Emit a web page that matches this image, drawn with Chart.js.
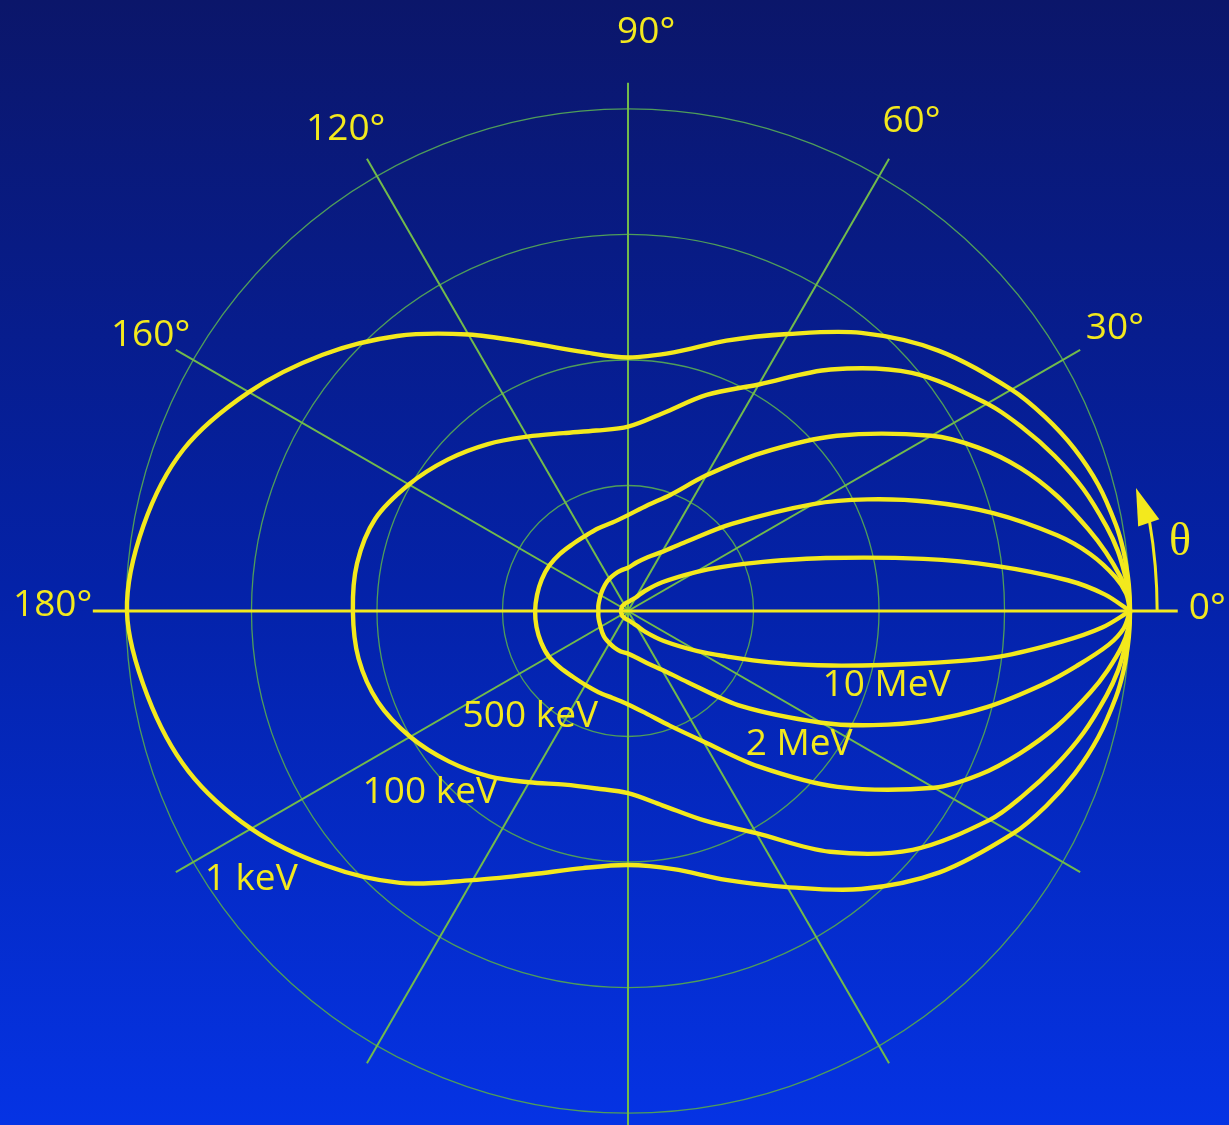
<!DOCTYPE html>
<html>
<head>
<meta charset="utf-8">
<script src="https://cdn.jsdelivr.net/npm/chart.js@4.4.0/dist/chart.umd.min.js"></script>
<style>
  html, body { margin: 0; padding: 0; }
  body {
    width: 1229px; height: 1125px; overflow: hidden;
    background: linear-gradient(to bottom, #0b166a 0%, #0422a8 52%, #0533e4 100%);
  }
  canvas { display: block; }
</style>
</head>
<body>
<canvas id="chart" width="1229" height="1125"></canvas>
<script>
// sample angles in degrees from the 0° axis (upper half +θ, lower half -θ)
const THETA = [0, 2, 4, 7, 10, 15, 20, 25, 30, 40, 50, 60, 70, 80, 90, 100, 110, 120, 130, 140, 150, 160, 170, 180];

const ENERGIES = ['1 keV', '100 keV', '500 keV', '2 MeV', '10 MeV'];

// relative intensity, outer ring = 100
const R_1KEV_UP = [100, 99.95, 99.8, 99.4, 98.7, 97.0, 94.6, 91.6, 88.2, 80.7, 72.3, 63.7, 57.3, 52.3, 50.5, 52.4, 56.8, 63.6, 71.5, 79.4, 87.2, 94.2, 98.0, 99.8];
const R_1KEV_DN = [100, 99.95, 99.8, 99.4, 98.7, 97.0, 94.7, 91.9, 88.6, 81.0, 72.3, 63.5, 57.0, 52.2, 50.6, 52.0, 55.8, 61.9, 70.7, 78.8, 86.7, 93.2, 97.2, 99.7];
const R_100KEV_UP = [100, 99.8, 99.3, 98.3, 96.8, 93.9, 90.4, 86.6, 82.6, 73.8, 62.8, 52.1, 45.8, 40.0, 36.7, 36.5, 37.7, 40.1, 43.4, 46.9, 50.4, 53.6, 54.8, 54.8];
const R_100KEV_DN = [100, 99.8, 99.3, 98.3, 96.8, 93.9, 90.5, 86.9, 83.2, 74.0, 62.6, 51.1, 44.4, 39.3, 36.3, 35.9, 36.8, 39.4, 43.0, 46.6, 50.1, 53.0, 54.5, 54.8];
const R_500KEV_UP = [100, 99.6, 98.3, 95.9, 93.2, 88.5, 83.2, 77.0, 69.8, 54.3, 41.0, 31.2, 24.6, 21.3, 19.1, 17.9, 17.5, 17.2, 17.3, 17.7, 18.1, 18.3, 18.4, 18.5];
const R_500KEV_DN = [100, 99.7, 98.7, 96.3, 93.5, 88.5, 83.0, 77.2, 70.4, 54.5, 40.4, 30.0, 24.3, 20.7, 18.6, 17.6, 17.2, 17.0, 17.1, 17.6, 18.2, 18.4, 18.5, 18.5];
const R_2MEV_UP = [100, 99.3, 97.3, 92.8, 86.8, 75.3, 63.6, 52.6, 42.6, 27.0, 18.0, 13.6, 11.4, 9.8, 8.6, 8.2, 7.8, 7.4, 7.0, 6.6, 6.3, 6.1, 6.0, 5.9];
const R_2MEV_DN = [100, 98.8, 96.0, 90.0, 84.0, 74.0, 63.8, 53.8, 44.5, 29.5, 18.5, 13.5, 11.0, 9.4, 8.5, 8.2, 7.8, 7.4, 7.1, 6.7, 6.3, 6.1, 6.0, 5.9];
const R_10MEV_UP = [100, 95.0, 87.8, 73.8, 59.8, 40.8, 28.6, 20.8, 15.4, 8.9, 5.2, 3.1, 2.4, 2.0, 1.8, 1.7, 1.6, 1.5, 1.5, 1.5, 1.4, 1.4, 1.4, 1.4];
const R_10MEV_DN = [100, 94.5, 86.8, 74.5, 60.0, 42.0, 29.8, 21.3, 16.0, 9.3, 5.5, 3.3, 2.5, 2.0, 1.8, 1.7, 1.6, 1.5, 1.5, 1.5, 1.4, 1.4, 1.4, 1.4];

const CURVES_UP = [R_1KEV_UP, R_100KEV_UP, R_500KEV_UP, R_2MEV_UP, R_10MEV_UP];
const CURVES_DN = [R_1KEV_DN, R_100KEV_DN, R_500KEV_DN, R_2MEV_DN, R_10MEV_DN];

// grid
const RINGS = [25, 50, 75, 100];
const SPOKES = [30, 60, 90, 120, 150, 210, 240, 270, 300, 330];
const AXIS_LABELS = ['0°', '30°', '60°', '90°', '120°', '160°', '180°'];

// layout (polar positions in degrees / ring units)
const layout = {
  spokeLen: 104,
  axisLeft: 106.6,
  axisRight: 109.5,
  axisLabelPos: [[0.3, 115.4], [30.1, 112.1], [59.9, 112.6], [88.2, 115.3], [120.4, 111.1], [150, 109.8], [179.4, 114.6]],
  curveLabelPos: [[-144.5, 92.2], [-137.4, 53.5], [-132.7, 28.7], [-37.9, 43.2], [-16.1, 53.6]]
};

const YELLOW = '#f3e91d';
const RING_GREEN = '#4f9d5a';
const SPOKE_GREEN = '#72bb4b';
const FONT = '"Open Sans", "Liberation Sans", sans-serif';

const rad = d => d * Math.PI / 180;

function toPoints(up, dn) {
  const pts = [];
  THETA.forEach((t, i) => pts.push({ x: up[i] * Math.cos(rad(t)), y: up[i] * Math.sin(rad(t)) }));
  for (let i = THETA.length - 2; i >= 0; i--) {
    const t = -THETA[i];
    pts.push({ x: dn[i] * Math.cos(rad(t)), y: dn[i] * Math.sin(rad(t)) });
  }
  return pts;
}

const polarGrid = {
  id: 'polarGrid',
  beforeDatasetsDraw(chart) {
    const { ctx, scales: { x, y } } = chart;
    const cx = x.getPixelForValue(0), cy = y.getPixelForValue(0);
    const unit = x.getPixelForValue(1) - cx;
    const pos = (t, r) => [x.getPixelForValue(r * Math.cos(rad(t))), y.getPixelForValue(r * Math.sin(rad(t)))];

    ctx.save();
    ctx.strokeStyle = RING_GREEN;
    ctx.lineWidth = 1.3;
    RINGS.forEach(r => {
      ctx.beginPath();
      ctx.arc(cx, cy, r * unit, 0, Math.PI * 2);
      ctx.stroke();
    });

    ctx.strokeStyle = SPOKE_GREEN;
    ctx.lineWidth = 2;
    SPOKES.forEach(a => {
      const len = (a === 90 || a === 270) ? 105.2 : layout.spokeLen;
      const [px, py] = pos(a, len);
      ctx.beginPath();
      ctx.moveTo(cx, cy);
      ctx.lineTo(px, py);
      ctx.stroke();
    });

    ctx.strokeStyle = YELLOW;
    ctx.lineWidth = 3;
    const [lx, ly] = pos(180, layout.axisLeft);
    const [rx, ry] = pos(0, layout.axisRight);
    ctx.beginPath();
    ctx.moveTo(lx, ly);
    ctx.lineTo(rx, ry);
    ctx.stroke();
    ctx.restore();
  }
};

const polarLabels = {
  id: 'polarLabels',
  afterDatasetsDraw(chart) {
    const { ctx, scales: { x, y } } = chart;
    const cx = x.getPixelForValue(0), cy = y.getPixelForValue(0);
    const unit = x.getPixelForValue(1) - cx;
    const pos = (t, r) => [x.getPixelForValue(r * Math.cos(rad(t))), y.getPixelForValue(r * Math.sin(rad(t)))];

    ctx.save();
    ctx.fillStyle = YELLOW;
    ctx.textAlign = 'center';
    ctx.textBaseline = 'middle';
    ctx.font = '37px ' + FONT;
    AXIS_LABELS.forEach((txt, i) => {
      const [px, py] = pos(layout.axisLabelPos[i][0], layout.axisLabelPos[i][1]);
      ctx.fillText(txt, px, py);
    });
    ENERGIES.forEach((txt, i) => {
      const [px, py] = pos(layout.curveLabelPos[i][0], layout.curveLabelPos[i][1]);
      ctx.fillText(txt, px, py);
    });

    // θ arrow
    ctx.strokeStyle = YELLOW;
    ctx.lineWidth = 3;
    ctx.beginPath();
    ctx.arc(cx, cy, 105.4 * unit, 0, -rad(9.8), true);
    ctx.stroke();
    const tip = pos(13.6, 104.1), b1 = pos(9.4, 103.0), b2 = pos(9.8, 107.4);
    ctx.beginPath();
    ctx.moveTo(tip[0], tip[1]);
    ctx.lineTo(b1[0], b1[1]);
    ctx.lineTo(b2[0], b2[1]);
    ctx.closePath();
    ctx.fill();

    ctx.font = '46px "Liberation Serif", "DejaVu Serif", serif';
    const [tx, ty] = pos(7.0, 110.8);
    ctx.fillText('θ', tx, ty);
    ctx.restore();
  }
};

new Chart(document.getElementById('chart'), {
  type: 'scatter',
  data: {
    datasets: ENERGIES.map((name, i) => ({
      label: name,
      data: toPoints(CURVES_UP[i], CURVES_DN[i]),
      showLine: true,
      borderColor: YELLOW,
      borderWidth: 4.4,
      pointRadius: 0,
      tension: 0.33,
      fill: false
    }))
  },
  options: {
    responsive: false,
    animation: false,
    layout: { padding: 0 },
    plugins: { legend: { display: false }, tooltip: { enabled: false } },
    scales: {
      x: { type: 'linear', display: false, min: -125.09, max: 119.71 },
      y: { type: 'linear', display: false, min: -102.38, max: 121.70 }
    }
  },
  plugins: [polarGrid, polarLabels]
});
</script>
</body>
</html>
